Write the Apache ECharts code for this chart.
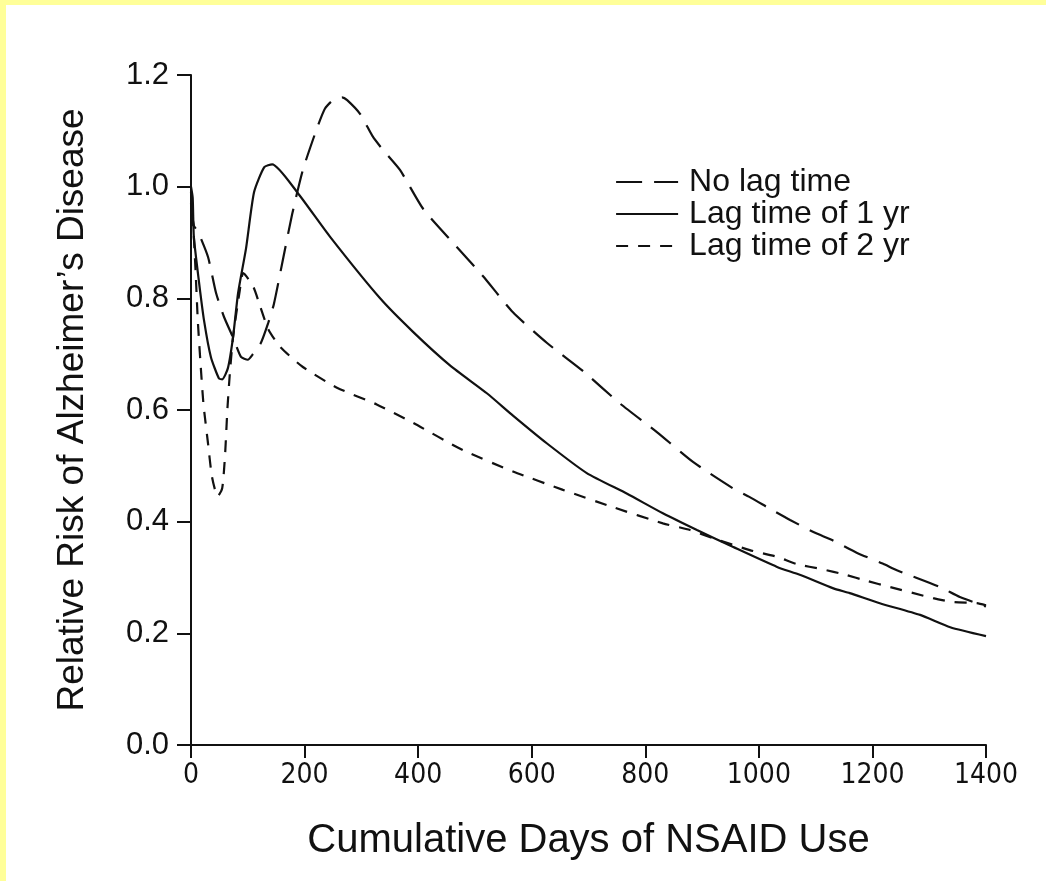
<!DOCTYPE html>
<html>
<head>
<meta charset="utf-8">
<script src="https://cdn.jsdelivr.net/npm/echarts@6/dist/echarts.min.js"></script>
<style>
html,body{margin:0;padding:0;background:#fff;}
#chart{width:1046px;height:881px;}
</style>
</head>
<body>
<div id="chart"></div>
<script>
// ---- Data ----
var xTicks = [0, 200, 400, 600, 800, 1000, 1200, 1400];
var yTicks = [0.0, 0.2, 0.4, 0.6, 0.8, 1.0, 1.2];
var seriesNames = ['No lag time', 'Lag time of 1 yr', 'Lag time of 2 yr'];

var daysNoLag = [0, 5, 12, 30, 44, 58, 74, 88, 100, 109, 123, 136, 146, 162, 178, 197, 222, 236, 250, 266, 275, 298, 320, 338, 368, 409, 461, 514, 567, 627, 690, 755, 821, 884, 954, 984, 1023, 1055, 1099, 1129, 1173, 1218, 1243, 1319, 1354, 1400];
var rrNoLag   = [0.97, 0.93, 0.92, 0.874, 0.81, 0.767, 0.73, 0.695, 0.69, 0.70, 0.72, 0.756, 0.79, 0.87, 0.95, 1.03, 1.105, 1.14, 1.155, 1.16, 1.155, 1.13, 1.09, 1.066, 1.03, 0.96, 0.90, 0.84, 0.775, 0.72, 0.67, 0.612, 0.56, 0.507, 0.46, 0.444, 0.421, 0.403, 0.38, 0.367, 0.344, 0.325, 0.313, 0.283, 0.265, 0.248];

var daysLag1 = [0, 3, 5, 14, 23, 35, 49, 55, 65, 74, 83, 97, 111, 129, 143, 187, 245, 333, 391, 456, 521, 567, 627, 697, 768, 831, 891, 954, 1032, 1072, 1130, 1160, 1213, 1284, 1337, 1400];
var rrLag1   = [1.0, 0.98, 0.91, 0.83, 0.76, 0.695, 0.657, 0.655, 0.675, 0.73, 0.81, 0.89, 0.99, 1.035, 1.04, 0.99, 0.91, 0.80, 0.74, 0.68, 0.63, 0.59, 0.54, 0.487, 0.45, 0.415, 0.385, 0.355, 0.319, 0.305, 0.281, 0.272, 0.254, 0.233, 0.211, 0.195];

var daysLag2 = [0, 4, 8, 12, 17, 22, 30, 37, 47, 55, 60, 64, 68, 74, 86, 92, 110, 122, 136, 157, 197, 257, 327, 391, 479, 567, 655, 743, 831, 879, 920, 984, 1032, 1067, 1111, 1152, 1190, 1231, 1307, 1342, 1384, 1400];
var rrLag2   = [0.99, 0.93, 0.85, 0.76, 0.68, 0.61, 0.54, 0.48, 0.445, 0.46, 0.52, 0.60, 0.66, 0.73, 0.815, 0.845, 0.82, 0.785, 0.745, 0.713, 0.677, 0.64, 0.61, 0.577, 0.528, 0.49, 0.457, 0.426, 0.397, 0.385, 0.37, 0.349, 0.337, 0.324, 0.315, 0.305, 0.294, 0.283, 0.263, 0.256, 0.254, 0.25];

function pairs(xs, ys) { return xs.map(function (x, i) { return [x, ys[i]]; }); }

var ink = '#111';
var chart = echarts.init(document.getElementById('chart'), null, {renderer: 'canvas'});
chart.setOption({
  backgroundColor: '#ffffff',
  animation: false,
  graphic: [
    {type: 'rect', left: 0, top: 0, shape: {width: 6, height: 881}, style: {fill: '#ffff99'}, z: 100},
    {type: 'rect', left: 0, top: 0, shape: {width: 1046, height: 5}, style: {fill: '#ffff99'}, z: 100}
  ],
  grid: {left: 191, right: 60, top: 75, bottom: 136, containLabel: false},
  legend: {
    orient: 'vertical',
    left: 610,
    top: 161,
    itemWidth: 62,
    itemHeight: 20,
    itemGap: 0,
    itemStyle: {opacity: 0},
    lineStyle: {width: 2.2},
    textStyle: {fontFamily: 'Liberation Sans, Arial, sans-serif', fontSize: 32, color: ink, lineHeight: 32, padding: [0, 0, 0, 6]},
    data: seriesNames
  },
  xAxis: {
    type: 'value', min: 0, max: 1400, interval: 200,
    name: 'Cumulative Days of NSAID Use',
    nameLocation: 'middle', nameGap: 76,
    nameTextStyle: {fontFamily: 'Liberation Sans, Arial, sans-serif', fontSize: 40, color: ink},
    axisLine: {show: true, lineStyle: {color: ink, width: 2}},
    axisTick: {show: true, length: 13, lineStyle: {color: ink, width: 2}},
    axisLabel: {margin: 17, fontFamily: 'Liberation Sans Narrow, DejaVu Sans Condensed, sans-serif', fontSize: 28, color: ink,
      formatter: function (v) { return String(v); }},
    splitLine: {show: false}
  },
  yAxis: {
    type: 'value', min: 0, max: 1.2, interval: 0.2,
    name: 'Relative Risk of Alzheimer\u2019s Disease',
    nameLocation: 'middle', nameGap: 100,
    nameTextStyle: {fontFamily: 'Liberation Sans, Arial, sans-serif', fontSize: 37, color: ink},
    axisLine: {show: true, lineStyle: {color: ink, width: 2}},
    axisTick: {show: true, length: 14, lineStyle: {color: ink, width: 2}},
    axisLabel: {margin: 22, fontFamily: 'Liberation Sans, Arial, sans-serif', fontSize: 31, color: ink,
      formatter: function (v) { return v.toFixed(1); }},
    splitLine: {show: false}
  },
  series: [
    {name: seriesNames[0], type: 'line', data: pairs(daysNoLag, rrNoLag), symbol: 'none', smooth: 0.2,
      lineStyle: {color: ink, width: 2.2, type: [26, 12]}, itemStyle: {color: ink}},
    {name: seriesNames[1], type: 'line', data: pairs(daysLag1, rrLag1), symbol: 'none', smooth: 0.2,
      lineStyle: {color: ink, width: 2.2, type: 'solid'}, itemStyle: {color: ink}},
    {name: seriesNames[2], type: 'line', data: pairs(daysLag2, rrLag2), symbol: 'none', smooth: 0.2,
      lineStyle: {color: ink, width: 2.2, type: [12, 10]}, itemStyle: {color: ink}}
  ]
});
</script>
</body>
</html>
